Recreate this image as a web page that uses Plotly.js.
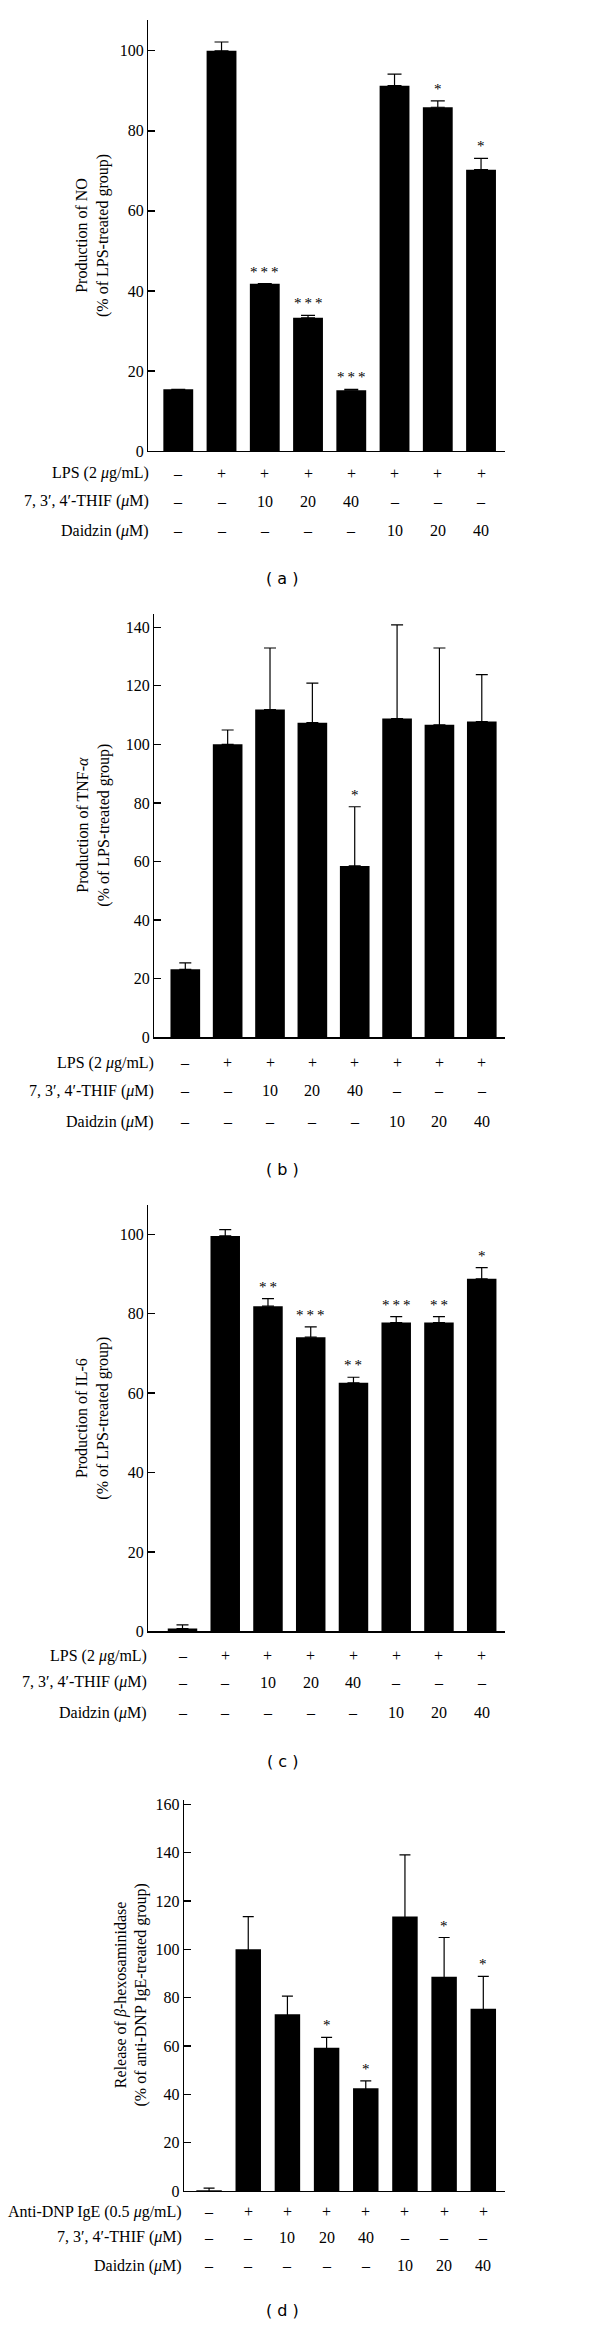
<!DOCTYPE html>
<html><head><meta charset="utf-8">
<script src="https://cdn.plot.ly/plotly-3.0.1.min.js"></script>
<style>html,body{margin:0;padding:0;background:#fff}#chart{width:600px;height:2327px}</style>
</head><body><div id="chart"></div>
<script>
// ---------- data ----------
const groups = ['Control','LPS','THIF 10','THIF 20','THIF 40','Daidzin 10','Daidzin 20','Daidzin 40'];

// (a) NO production
const noValues = [15.4, 100, 41.8, 33.3, 15.2, 91.3, 85.9, 70.3];
const noErrors = [0, 2.2, 0, 0.6, 0.2, 2.9, 1.6, 2.8];
const noStars  = ['', '', '***', '***', '***', '', '*', '*'];
const noTicks  = [0, 20, 40, 60, 80, 100];

// (b) TNF-alpha production
const tnfValues = [23.2, 100, 111.9, 107.4, 58.5, 108.8, 106.7, 107.8];
const tnfErrors = [2.2, 4.9, 21, 13.5, 20.2, 32, 26.2, 16];
const tnfStars  = ['', '', '', '', '*', '', '', ''];
const tnfTicks  = [0, 20, 40, 60, 80, 100, 120, 140];

// (c) IL-6 production
const il6Values = [0.7, 99.6, 81.9, 74.1, 62.6, 77.8, 77.8, 88.8];
const il6Errors = [0.9, 1.6, 1.9, 2.6, 1.4, 1.5, 1.5, 2.8];
const il6Stars  = ['', '', '**', '***', '**', '***', '**', '*'];
const il6Ticks  = [0, 20, 40, 60, 80, 100];

// (d) beta-hexosaminidase release
const hexValues = [0.3, 100, 73.1, 59.3, 42.5, 113.6, 88.7, 75.4];
const hexErrors = [0.9, 13.5, 7.5, 4.3, 3.1, 25.5, 16.2, 13.4];
const hexStars  = ['', '', '', '*', '*', '', '*', '*'];
const hexTicks  = [0, 20, 40, 60, 80, 100, 120, 140, 160];

// treatment table rows
const lpsRow     = ['–','+','+','+','+','+','+','+'];
const igeRow     = ['–','+','+','+','+','+','+','+'];
const thifRow    = ['–','–','10','20','40','–','–','–'];
const daidzinRow = ['–','–','–','–','–','10','20','40'];

const lpsLabel     = 'LPS (2 <i>μ</i>g/mL)';
const igeLabel     = 'Anti-DNP IgE (0.5 <i>μ</i>g/mL)';
const thifLabel    = '7, 3′, 4′-THIF (<i>μ</i>M)';
const daidzinLabel = 'Daidzin (<i>μ</i>M)';

const noTitle  = 'Production of NO<br>(% of LPS-treated group)';
const tnfTitle = 'Production of TNF-<i>α</i><br>(% of LPS-treated group)';
const il6Title = 'Production of IL-6<br>(% of LPS-treated group)';
const hexTitle = 'Release of <i>β</i>-hexosaminidase<br>(% of anti-DNP IgE-treated group)';

const panelTags = ['( a )', '( b )', '( c )', '( d )'];

// ---------- layout geometry (pixels) ----------
const W = 600, H = 2327;
const px = x => x / W;
const py = y => 1 - y / H;
const SERIF = 'Liberation Serif, Times New Roman, serif';

const panels = [
  {vals: noValues, errs: noErrors, stars: noStars, ticks: noTicks, title: noTitle,
   rowLabels: [lpsLabel, thifLabel, daidzinLabel], rows: [lpsRow, thifRow, daidzinRow],
   left: 148.3, right: 505, top: 20, bottom: 451, ymax: 107.7, xr: [-0.693, 7.554],
   barW: 0.69, cap: 7, sym: false, titleX: 92.5, rowY: [473.3, 501, 530.7], rowLabelX: 151, tagY: 578},
  {vals: tnfValues, errs: tnfErrors, stars: tnfStars, ticks: tnfTicks, title: tnfTitle,
   rowLabels: [lpsLabel, thifLabel, daidzinLabel], rows: [lpsRow, thifRow, daidzinRow],
   left: 154.3, right: 505, top: 614, bottom: 1037.3, ymax: 144.5, xr: [-0.732, 7.548],
   barW: 0.70, cap: 6, sym: false, titleX: 94, rowY: [1062.7, 1090.7, 1121.7], rowLabelX: 156, tagY: 1169.3},
  {vals: il6Values, errs: il6Errors, stars: il6Stars, ticks: il6Ticks, title: il6Title,
   rowLabels: [lpsLabel, thifLabel, daidzinLabel], rows: [lpsRow, thifRow, daidzinRow],
   left: 148.3, right: 505, top: 1205, bottom: 1631.3, ymax: 107.4, xr: [-0.80, 7.545],
   barW: 0.69, cap: 6, sym: false, titleX: 92.5, rowY: [1655.7, 1682.3, 1712.7], rowLabelX: 149, tagY: 1761},
  {vals: hexValues, errs: hexErrors, stars: hexStars, ticks: hexTicks, title: hexTitle,
   rowLabels: [igeLabel, thifLabel, daidzinLabel], rows: [igeRow, thifRow, daidzinRow],
   left: 184, right: 505, top: 1800, bottom: 2191, ymax: 161.8, xr: [-0.64, 7.554],
   barW: 0.65, cap: 5.5, sym: true, titleX: 131, rowY: [2211.7, 2237.3, 2265.7], rowLabelX: 184, tagY: 2310}
];

const data = [];
const layout = {
  width: W, height: H, margin: {l: 0, r: 0, t: 0, b: 0},
  paper_bgcolor: '#fff', plot_bgcolor: 'rgba(0,0,0,0)',
  showlegend: false, annotations: [],
  font: {family: SERIF, size: 16, color: '#000'}
};

panels.forEach((p, i) => {
  const n = i === 0 ? '' : String(i + 1);
  const xa = 'x' + n, ya = 'y' + n;
  data.push({
    type: 'bar', x: groups, y: p.vals, xaxis: xa, yaxis: ya,
    width: p.barW, marker: {color: '#000', line: {width: 0}},
    cliponaxis: false,
    error_y: p.sym
      ? {type: 'data', array: p.errs, symmetric: true, color: '#000', thickness: 1.2, width: p.cap, visible: true}
      : {type: 'data', array: p.errs, arrayminus: p.errs.map(() => 0), symmetric: false, color: '#000', thickness: 1.2, width: p.cap, visible: true},
    hoverinfo: 'skip'
  });
  layout['xaxis' + n] = {
    domain: [px(p.left), px(p.right)], anchor: ya, type: 'category',
    range: p.xr, showticklabels: false, ticks: '', showgrid: false, zeroline: false,
    showline: true, linecolor: '#000', linewidth: 1.3, fixedrange: true
  };
  layout['yaxis' + n] = {
    domain: [py(p.bottom), py(p.top)], anchor: xa, range: [0, p.ymax],
    tickmode: 'array', tickvals: p.ticks, ticktext: p.ticks.map(String),
    ticks: 'inside', ticklen: 7, tickwidth: 1.3, tickcolor: '#000',
    tickfont: {family: SERIF, size: 16, color: '#000'},
    showgrid: false, zeroline: false, showline: true, linecolor: '#000', linewidth: 1.3,
    fixedrange: true
  };
  // y title
  layout.annotations.push({
    xref: 'paper', yref: 'paper', x: px(p.titleX), y: py((p.top + p.bottom) / 2),
    xanchor: 'center', yanchor: 'middle', textangle: -90, showarrow: false,
    text: p.title, font: {family: SERIF, size: 16, color: '#000'}
  });
  // significance stars
  p.stars.forEach((s, k) => {
    if (!s) return;
    layout.annotations.push({
      xref: xa, yref: ya, x: groups[k], y: p.vals[k] + p.errs[k],
      xanchor: 'center', yanchor: 'bottom', showarrow: false, yshift: 2,
      text: s.split('').join('\u2009'), font: {family: SERIF, size: 15, color: '#000'}
    });
  });
  // treatment table
  p.rows.forEach((row, r) => {
    layout.annotations.push({
      xref: 'paper', yref: 'paper', x: px(p.rowLabelX), y: py(p.rowY[r]),
      xanchor: 'right', yanchor: 'middle', showarrow: false,
      text: p.rowLabels[r], font: {family: SERIF, size: 16, color: '#000'}
    });
    row.forEach((v, k) => {
      layout.annotations.push({
        xref: xa, yref: 'paper', x: groups[k], y: py(p.rowY[r]),
        xanchor: 'center', yanchor: 'middle', showarrow: false,
        text: v, font: {family: SERIF, size: 16, color: '#000'}
      });
    });
  });
  // panel tag
  layout.annotations.push({
    xref: 'paper', yref: 'paper', x: px(282), y: py(p.tagY),
    xanchor: 'center', yanchor: 'middle', showarrow: false,
    text: panelTags[i], font: {family: 'DejaVu Sans, Verdana, sans-serif', size: 16, color: '#000'}
  });
});

Plotly.newPlot('chart', data, layout, {staticPlot: true, displayModeBar: false});
</script>
</body></html>
